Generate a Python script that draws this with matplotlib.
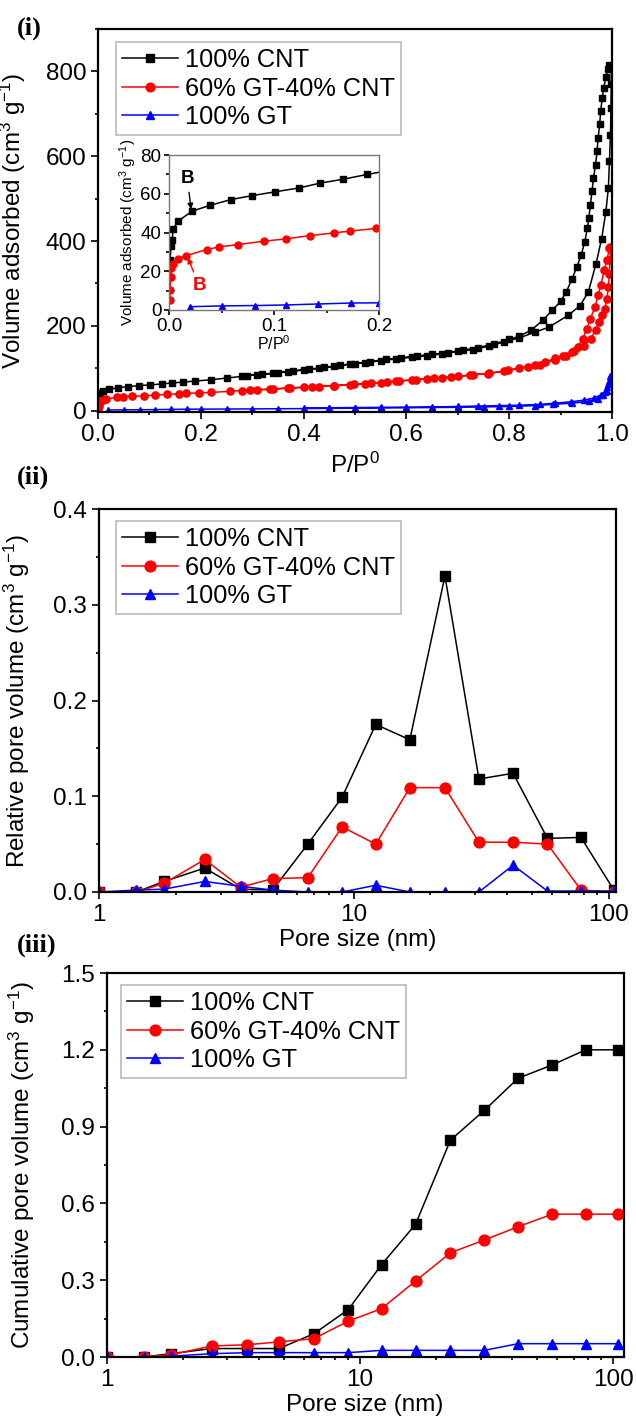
import numpy as np
import matplotlib
matplotlib.use("Agg")
import matplotlib.pyplot as plt
from matplotlib.ticker import MultipleLocator, LogLocator, NullFormatter, FixedLocator

plt.rcParams['font.family'] = ['Liberation Sans', 'DejaVu Sans']
plt.rcParams['mathtext.fontset'] = 'custom'
plt.rcParams['mathtext.rm'] = 'Liberation Sans'
plt.rcParams['mathtext.it'] = 'Liberation Sans:italic'

labels = ['100% CNT', '60% GT-40% CNT', '100% GT']
colors = ['black', '#ff0000', '#0000ff']
markers = ['s', 'o', '^']

# --- N2 isotherms (adsorption then desorption) ---
cnt_p_ads = [0.0005, 0.001, 0.002, 0.003, 0.004, 0.009, 0.022, 0.039, 0.059, 0.079, 0.101, 0.124,
             0.144, 0.166, 0.189, 0.22, 0.25, 0.28, 0.31, 0.34, 0.37, 0.40, 0.43, 0.46, 0.49, 0.52,
             0.55, 0.58, 0.61, 0.64, 0.67, 0.70, 0.73, 0.76, 0.79, 0.82, 0.85, 0.877, 0.915, 0.938,
             0.954, 0.969, 0.980, 0.988, 0.993, 0.995, 0.997, 0.998, 0.9985, 0.999]
cnt_v_ads = [17, 26, 33, 36, 42, 46, 51, 54, 57, 59, 61, 63,
             65.5, 67.5, 70, 73, 77, 81, 85, 88, 92, 96, 100, 105, 110, 113,
             118, 122, 126, 130, 134, 140, 144, 152, 162, 172, 185, 197, 225, 248,
             280, 347, 406, 469, 525, 588, 651, 714, 770, 812]
cnt_p_des = [0.995, 0.992, 0.988, 0.984, 0.981, 0.978, 0.976, 0.973, 0.971, 0.968, 0.964, 0.961,
             0.958, 0.955, 0.952, 0.947, 0.940, 0.932, 0.922, 0.911, 0.900, 0.884, 0.865, 0.843,
             0.82, 0.80, 0.77, 0.74, 0.71, 0.68, 0.65, 0.62, 0.59, 0.56, 0.53, 0.50, 0.47, 0.44,
             0.41, 0.38, 0.35, 0.32, 0.29]
cnt_v_des = [814, 805, 786, 762, 737, 707, 675, 644, 612, 580, 549, 517,
             485, 455, 430, 398, 367, 340, 310, 280, 258, 237, 213, 190,
             176, 168, 157, 149, 143, 137, 133, 129, 125, 121, 116, 111, 107, 102,
             98, 94, 90, 86, 83]

mix_p_ads = [0.0007, 0.001, 0.0016, 0.002, 0.004, 0.009, 0.016, 0.036, 0.048, 0.066, 0.090, 0.111,
             0.134, 0.157, 0.172, 0.197, 0.22, 0.257, 0.296, 0.335, 0.374, 0.417, 0.459, 0.498,
             0.531, 0.563, 0.586, 0.618, 0.654, 0.687, 0.723, 0.758, 0.797, 0.837, 0.86, 0.889,
             0.91, 0.927, 0.945, 0.959, 0.968, 0.975, 0.981, 0.986, 0.990, 0.993, 0.995, 0.996, 0.997]
mix_v_ads = [5.2, 10.4, 16.8, 21.6, 24, 26.3, 28, 31.2, 32.6, 33.8, 35.5, 36.7,
             38.4, 39.8, 40.7, 42.1, 43, 46, 49, 51, 54, 57, 59, 63,
             65, 67, 71, 73, 77, 79, 84, 87, 95, 104, 108, 120,
             130, 140, 152, 170, 190, 210, 225, 240, 264, 292, 323, 355, 387]
mix_p_des = [0.995, 0.990, 0.985, 0.978, 0.973, 0.967, 0.958, 0.951, 0.943, 0.933, 0.922, 0.905,
             0.889, 0.869, 0.85, 0.82, 0.79, 0.76, 0.73, 0.70, 0.67, 0.64, 0.61, 0.58, 0.55,
             0.52, 0.49, 0.46, 0.43, 0.40, 0.37, 0.34, 0.31, 0.28]
mix_v_des = [383, 355, 331, 296, 272, 245, 217, 193, 170, 150, 138, 130,
             124, 114, 107, 100, 94, 88, 85, 81, 78, 75, 72, 69, 66,
             64, 61, 59, 57, 55, 53, 51, 49, 47]

gt_p_ads = [0.02, 0.05, 0.082, 0.111, 0.142, 0.173, 0.2, 0.25, 0.3, 0.35, 0.4, 0.45, 0.5, 0.55,
            0.6, 0.65, 0.7, 0.75, 0.8, 0.85, 0.885, 0.923, 0.956, 0.972, 0.983, 0.99, 0.993, 0.996]
gt_v_ads = [1.7, 2.1, 2.3, 2.6, 3.1, 3.6, 3.7, 4, 4.3, 4.7, 5, 5.5, 6, 6.5,
            7, 7.5, 8, 9, 10, 12, 15, 18, 22, 28, 36, 47, 63, 83]
gt_p_des = [0.994, 0.991, 0.986, 0.978, 0.965, 0.945, 0.92, 0.89, 0.86, 0.82, 0.78, 0.74,
            0.70, 0.65, 0.60, 0.55, 0.50, 0.45, 0.40]
gt_v_des = [70, 55, 45, 37, 30, 25, 21, 18, 15, 13, 12, 11,
            10, 9, 8.5, 8, 7.5, 7, 6.5]

# --- BJH pore size distribution ---
pore_size = [1.0, 1.4, 1.8, 2.6, 3.6, 4.8, 6.6, 9.0, 12.2, 16.6, 22.8, 31, 42.2, 57.6, 78, 105]
rel_cnt = [0, 0, 0.011, 0.025, 0.003, 0.002, 0.050, 0.099, 0.175, 0.159, 0.330, 0.118, 0.124, 0.056, 0.057, 0.002]
rel_mix = [0, 0, 0.009, 0.034, 0.005, 0.014, 0.015, 0.068, 0.050, 0.109, 0.109, 0.052, 0.052, 0.050, 0.002, 0]
rel_gt = [0, 0.002, 0.003, 0.011, 0.006, 0.002, 0, 0, 0.007, 0, 0, 0, 0.028, 0.001, 0.001, 0.001]

cum_cnt = [0, 0, 0.013, 0.033, 0.033, 0.033, 0.091, 0.185, 0.361, 0.518, 0.847, 0.963, 1.089, 1.141, 1.200, 1.200]
cum_mix = [0, 0, 0.009, 0.043, 0.048, 0.059, 0.072, 0.140, 0.189, 0.297, 0.407, 0.457, 0.509, 0.558, 0.558, 0.558]
cum_gt = [0, 0, 0.003, 0.013, 0.017, 0.017, 0.017, 0.017, 0.026, 0.026, 0.026, 0.026, 0.052, 0.052, 0.052, 0.052]

isotherms = [(cnt_p_ads + cnt_p_des, cnt_v_ads + cnt_v_des),
             (mix_p_ads + mix_p_des, mix_v_ads + mix_v_des),
             (gt_p_ads + gt_p_des, gt_v_ads + gt_v_des)]

fig = plt.figure(figsize=(6.36, 14.18), dpi=100)
W, H = 636, 1418


def px_axes(left, top, right, bottom):
    return fig.add_axes([left / W, 1 - bottom / H, (right - left) / W, (bottom - top) / H])


def style(ax, size=17.5, spine=1.6):
    for s in ax.spines.values():
        s.set_linewidth(spine)
    ax.tick_params(which='both', direction='out', top=False, right=False, labelsize=size, width=1.2)
    ax.tick_params(which='major', length=5)
    ax.tick_params(which='minor', length=2.5)


def legend(ax, x0, y1, msize):
    leg = ax.legend(loc='upper left', bbox_to_anchor=(x0, y1), borderaxespad=0, fontsize=18.3,
                    handlelength=2.2, handletextpad=0.25, labelspacing=0.17, borderpad=0.25,
                    fancybox=False, frameon=True, markerscale=msize)
    leg.get_frame().set_edgecolor('#aaaaaa')
    leg.get_frame().set_linewidth(1.2)


# (i) isotherms
ax1 = px_axes(98, 29, 612, 412)
for (p, v), c, m, lab, ms in zip(isotherms, colors, markers, labels, [4.8, 5.2, 4.8]):
    ax1.plot(p, v, color=c, marker=m, ms=ms, lw=1.1, label=lab)
ax1.set_xlim(0, 1.0)
ax1.set_ylim(-3, 900)
ax1.xaxis.set_major_locator(MultipleLocator(0.2))
ax1.xaxis.set_minor_locator(MultipleLocator(0.1))
ax1.yaxis.set_major_locator(MultipleLocator(200))
ax1.yaxis.set_minor_locator(MultipleLocator(100))
ax1.xaxis.set_major_formatter(plt.FuncFormatter(lambda x, _: f'{x:.1f}'))
style(ax1)
ax1.set_xlabel('P/P$^0$', fontsize=17.5, labelpad=5)
ax1.set_ylabel('Volume adsorbed (cm$^3$ g$^{-1}$)', fontsize=17.5)
ax1.yaxis.set_label_coords(-0.136, 0.5)
legend(ax1, 0.035, 0.966, 1.2)

# inset: low pressure region
axi = px_axes(169, 155, 379, 310)
for (p, v), c, m in zip(isotherms, colors, markers):
    axi.plot(p, v, color=c, marker=m, ms=5.0, lw=1.1)
axi.set_xlim(0, 0.2)
axi.set_ylim(0, 80)
axi.xaxis.set_major_locator(MultipleLocator(0.1))
axi.xaxis.set_minor_locator(MultipleLocator(0.05))
axi.yaxis.set_major_locator(MultipleLocator(20))
axi.yaxis.set_minor_locator(MultipleLocator(10))
axi.xaxis.set_major_formatter(plt.FuncFormatter(lambda x, _: f'{x:.1f}'))
style(axi, size=13.5, spine=1.0)
for s in axi.spines.values():
    s.set_color('#777777')
axi.tick_params(which='major', length=3.5, pad=2)
axi.tick_params(which='minor', length=2)
axi.set_xlabel('P/P$^0$', fontsize=11.5, labelpad=0)
axi.set_ylabel('Volume adsorbed (cm$^3$ g$^{-1}$)', fontsize=11, labelpad=1)
axi.annotate('B', xy=(0.021, 52), xytext=(0.0175, 68), ha='center', va='center',
             fontsize=13.5, fontweight='bold', color='black',
             arrowprops=dict(arrowstyle='-|>', color='black', lw=1.0, mutation_scale=8, shrinkA=2, shrinkB=0))
axi.annotate('B', xy=(0.018, 27), xytext=(0.0287, 12.5), ha='center', va='center',
             fontsize=13.5, fontweight='bold', color='#ff0000',
             arrowprops=dict(arrowstyle='-|>', color='#ff0000', lw=1.0, mutation_scale=8, shrinkA=2, shrinkB=0))

# (ii) relative pore volume
ax2 = px_axes(99, 509, 616, 892)
for y, c, m, lab in zip([rel_cnt, rel_mix, rel_gt], colors, markers, labels):
    ax2.plot(pore_size, y, color=c, marker=m, ms=7.8, lw=1.1, label=lab)
ax2.set_xscale('log')
ax2.set_xlim(1, 107)
ax2.set_ylim(0, 0.4)
ax2.yaxis.set_major_locator(MultipleLocator(0.1))
ax2.yaxis.set_minor_locator(MultipleLocator(0.05))
ax2.yaxis.set_major_formatter(plt.FuncFormatter(lambda x, _: f'{x:.1f}'))

# (iii) cumulative pore volume
ax3 = px_axes(106.5, 973, 623.5, 1357)
for y, c, m, lab in zip([cum_cnt, cum_mix, cum_gt], colors, markers, labels):
    ax3.plot(pore_size, y, color=c, marker=m, ms=7.8, lw=1.1, label=lab)
ax3.set_xscale('log')
ax3.set_xlim(1, 110)
ax3.set_ylim(0, 1.5)
ax3.yaxis.set_major_locator(MultipleLocator(0.3))
ax3.yaxis.set_minor_locator(MultipleLocator(0.15))
ax3.yaxis.set_major_formatter(plt.FuncFormatter(lambda x, _: f'{x:.1f}'))

for ax in (ax2, ax3):
    ax.xaxis.set_major_locator(FixedLocator([1, 10, 100]))
    ax.xaxis.set_major_formatter(plt.FuncFormatter(lambda x, _: f'{x:g}'))
    ax.xaxis.set_minor_locator(LogLocator(base=10, subs=np.arange(2, 10)))
    ax.xaxis.set_minor_formatter(NullFormatter())
    style(ax)
    ax.set_xlabel('Pore size (nm)', fontsize=17.5, labelpad=2)

ax2.set_ylabel('Relative pore volume (cm$^3$ g$^{-1}$)', fontsize=17.5)
ax2.yaxis.set_label_coords(-0.129, 0.5)
ax3.set_ylabel('Cumulative pore volume (cm$^3$ g$^{-1}$)', fontsize=17.5)
ax3.yaxis.set_label_coords(-0.135, 0.5)
legend(ax2, 0.033, 0.969, 1.0)
legend(ax3, 0.028, 0.969, 1.0)

# panel tags
for tag, y in [('(i)', 28), ('(ii)', 477), ('(iii)', 945)]:
    fig.text(17 / W, 1 - y / H, tag, family='Liberation Serif', fontweight='bold',
             fontsize=19, va='center', ha='left')

fig.savefig('out.png', dpi=100)
